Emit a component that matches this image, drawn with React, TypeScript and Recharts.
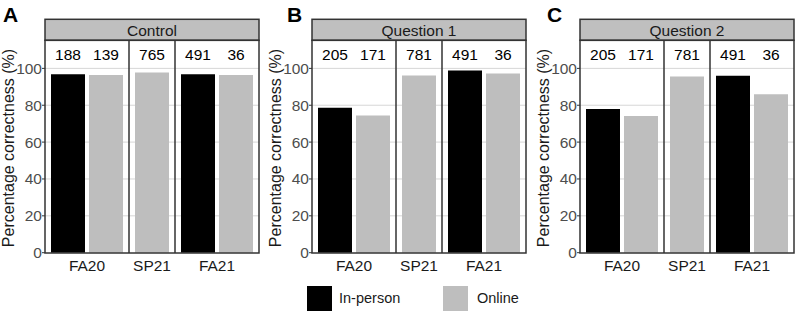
import React from "react";
import { BarChart, Bar, XAxis, YAxis, CartesianGrid, LabelList } from "recharts";

// terms shared by all three panels
const terms = ["FA20", "SP21", "FA21"];

// Control
const controlInPerson = [96.8, null, 96.8];
const controlOnline = [96.4, 97.8, 96.4];
const controlNInPerson = [188, null, 491];
const controlNOnline = [139, 765, 36];

// Question 1
const q1InPerson = [78.6, null, 98.8];
const q1Online = [74.4, 96.2, 97.2];
const q1NInPerson = [205, null, 491];
const q1NOnline = [171, 781, 36];

// Question 2
const q2InPerson = [78.0, null, 96.0];
const q2Online = [74.2, 95.6, 85.9];
const q2NInPerson = [205, null, 491];
const q2NOnline = [171, 781, 36];

const yTicks = [0, 20, 40, 60, 80, 100];
const gridValues = [20, 40, 60, 80, 100];
const COUNT_Y = 107.5;
const Y_MAX = 115.4;

const FONT = "'Liberation Sans', Arial, Helvetica, sans-serif";
const BLACK = "#000000";
const GREY = "#bebebe";
const FRAME = "#333333";

// layout
const STRIP_TOP = 19.3;
const PLOT_TOP = 40.3;
const PLOT_BOTTOM = 253;
const PLOT_H = PLOT_BOTTOM - PLOT_TOP;
const PLOT_W = 214;
const AXIS_W = 45;
const XAXIS_H = 30;
const BAR_W = 34;
const BAR_GAP = 4;

type Row = {
  term: string;
  inPerson: number | null;
  online: number | null;
  nInPerson: number | null;
  nOnline: number | null;
};

type PanelSpec = {
  letter: string;
  title: string;
  plotLeft: number;
  letterX: number;
  inPerson: (number | null)[];
  online: (number | null)[];
  nInPerson: (number | null)[];
  nOnline: (number | null)[];
};

const panels: PanelSpec[] = [
  {
    letter: "A",
    title: "Control",
    plotLeft: 45,
    letterX: 3,
    inPerson: controlInPerson,
    online: controlOnline,
    nInPerson: controlNInPerson,
    nOnline: controlNOnline,
  },
  {
    letter: "B",
    title: "Question 1",
    plotLeft: 312,
    letterX: 287,
    inPerson: q1InPerson,
    online: q1Online,
    nInPerson: q1NInPerson,
    nOnline: q1NOnline,
  },
  {
    letter: "C",
    title: "Question 2",
    plotLeft: 580,
    letterX: 547,
    inPerson: q2InPerson,
    online: q2Online,
    nInPerson: q2NInPerson,
    nOnline: q2NOnline,
  },
];

const rowsOf = (p: PanelSpec): Row[] =>
  terms.map((term, i) => ({
    term,
    inPerson: p.inPerson[i],
    online: p.online[i],
    nInPerson: p.nInPerson[i],
    nOnline: p.nOnline[i],
  }));

const barCount = (r: Row) => (r.inPerson != null ? 1 : 0) + (r.online != null ? 1 : 0);

// facet widths follow the number of bars (free x space)
const sectionWidths = (rows: Row[]) => {
  const units = rows.map((r) => barCount(r) + 0.2);
  const total = units.reduce((a, b) => a + b, 0);
  const raw = units.map((u) => Math.round((u / total) * PLOT_W));
  raw[raw.length - 1] = PLOT_W - raw.slice(0, -1).reduce((a, b) => a + b, 0);
  return raw;
};

// count above each bar, placed at COUNT_Y using the bar's own scale
const countLabel = (barValue: number) => (props: any) => {
  const vb = props.viewBox || props;
  const top = Math.min(vb.y, vb.y + vb.height);
  const h = Math.abs(vb.height);
  const base = top + h;
  const y = base - (COUNT_Y * h) / barValue;
  return (
    <text
      x={vb.x + vb.width / 2}
      y={y}
      textAnchor="middle"
      dominantBaseline="central"
      fontSize={15.5}
      fill="#000"
      fontFamily={FONT}
    >
      {props.value}
    </text>
  );
};

const Section = ({ row, width, withAxis }: { row: Row; width: number; withAxis: boolean }) => (
  <BarChart
    width={width + (withAxis ? AXIS_W : 0)}
    height={PLOT_H + XAXIS_H}
    data={[row]}
    margin={{ top: 0, right: 0, bottom: 0, left: 0 }}
    barGap={BAR_GAP}
  >
    <CartesianGrid vertical={false} stroke="#d6d6d6" horizontalValues={gridValues} />
    <XAxis
      dataKey="term"
      tickLine={false}
      axisLine={false}
      height={XAXIS_H}
      tickSize={6}
      tickMargin={1}
      interval={0}
      tick={{ fontSize: 15.5, fill: "#1a1a1a", fontFamily: FONT }}
    />
    <YAxis
      hide={!withAxis}
      width={AXIS_W}
      type="number"
      domain={[0, Y_MAX]}
      ticks={yTicks}
      axisLine={false}
      tickLine={{ stroke: FRAME }}
      tickSize={3}
      tickMargin={0}
      tick={{ fontSize: 15.5, fill: "#4d4d4d", fontFamily: FONT }}
    />
    {row.inPerson != null && (
      <Bar dataKey="inPerson" fill={BLACK} barSize={BAR_W} isAnimationActive={false}>
        <LabelList dataKey="nInPerson" content={countLabel(row.inPerson)} />
      </Bar>
    )}
    {row.online != null && (
      <Bar dataKey="online" fill={GREY} barSize={BAR_W} isAnimationActive={false}>
        <LabelList dataKey="nOnline" content={countLabel(row.online)} />
      </Bar>
    )}
  </BarChart>
);

const Panel = ({ spec }: { spec: PanelSpec }) => {
  const rows = rowsOf(spec);
  const widths = sectionWidths(rows);
  return (
    <div
      style={{
        position: "absolute",
        left: spec.plotLeft - AXIS_W,
        top: PLOT_TOP,
        display: "flex",
      }}
    >
      {rows.map((r, i) => (
        <Section key={r.term} row={r} width={widths[i]} withAxis={i === 0} />
      ))}
    </div>
  );
};

const Frames = () => (
  <svg
    width={796}
    height={312}
    style={{ position: "absolute", left: 0, top: 0, pointerEvents: "none" }}
    fontFamily={FONT}
  >
    {panels.map((p) => {
      const widths = sectionWidths(rowsOf(p));
      const sep1 = p.plotLeft + widths[0];
      const sep2 = sep1 + widths[1];
      return (
        <g key={p.letter}>
          <text x={p.letterX} y={21.5} fontSize={21} fontWeight="bold" fill="#000">
            {p.letter}
          </text>
          <rect
            x={p.plotLeft}
            y={STRIP_TOP}
            width={PLOT_W}
            height={PLOT_TOP - STRIP_TOP}
            fill="#bfbfbf"
            stroke={FRAME}
            strokeWidth={1.5}
          />
          <text
            x={p.plotLeft + PLOT_W / 2}
            y={(STRIP_TOP + PLOT_TOP) / 2 + 1}
            textAnchor="middle"
            dominantBaseline="central"
            fontSize={15.5}
            fill="#1a1a1a"
          >
            {p.title}
          </text>
          <rect
            x={p.plotLeft}
            y={PLOT_TOP}
            width={PLOT_W}
            height={PLOT_H}
            fill="none"
            stroke={FRAME}
            strokeWidth={1.5}
          />
          <line x1={sep1} x2={sep1} y1={PLOT_TOP} y2={PLOT_BOTTOM} stroke={FRAME} strokeWidth={1.5} />
          <line x1={sep2} x2={sep2} y1={PLOT_TOP} y2={PLOT_BOTTOM} stroke={FRAME} strokeWidth={1.5} />
          <text
            transform={`translate(${p.plotLeft - 37}, 148) rotate(-90)`}
            textAnchor="middle"
            dominantBaseline="central"
            fontSize={16}
            fill="#1a1a1a"
          >
            Percentage correctness (%)
          </text>
        </g>
      );
    })}
  </svg>
);

const Legend = () => (
  <div style={{ position: "absolute", left: 0, top: 0, fontFamily: FONT, fontSize: 14.5, color: "#1a1a1a" }}>
    <div style={{ position: "absolute", left: 307, top: 285.5, width: 25, height: 25, background: BLACK }} />
    <div style={{ position: "absolute", left: 339, top: 288, whiteSpace: "nowrap", lineHeight: "20px" }}>In-person</div>
    <div style={{ position: "absolute", left: 443, top: 285.5, width: 25, height: 25, background: GREY }} />
    <div style={{ position: "absolute", left: 477, top: 288, whiteSpace: "nowrap", lineHeight: "20px" }}>Online</div>
  </div>
);

export default function App() {
  return (
    <div
      style={{
        position: "absolute",
        left: 0,
        top: 0,
        width: 796,
        height: 312,
        background: "#fff",
        overflow: "hidden",
        fontFamily: FONT,
      }}
    >
      {panels.map((p) => (
        <Panel key={p.letter} spec={p} />
      ))}
      <Frames />
      <Legend />
    </div>
  );
}
